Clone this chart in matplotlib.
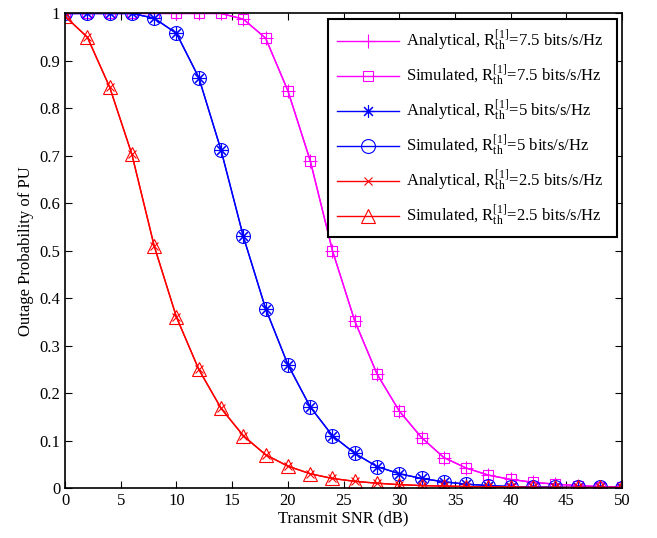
import matplotlib
matplotlib.use('Agg')
import matplotlib.pyplot as plt
import numpy as np

plt.rcParams['font.family'] = 'Liberation Serif'
plt.rcParams['mathtext.fontset'] = 'custom'
plt.rcParams['mathtext.rm'] = 'Liberation Serif'
plt.rcParams['mathtext.it'] = 'Liberation Serif:italic'
plt.rcParams['font.size'] = 12

snr = np.arange(0, 51, 2)

# outage probability, R_th = 7.5 bits/s/Hz
p75 = [1.0, 1.0, 1.0, 1.0, 1.0, 1.0, 1.0, 1.0, 0.988, 0.948, 0.837, 0.69, 0.50,
       0.352, 0.24, 0.162, 0.106, 0.064, 0.042, 0.027, 0.018, 0.012, 0.008,
       0.005, 0.003, 0.002]
# R_th = 5 bits/s/Hz
p5 = [1.0, 1.0, 1.0, 1.0, 0.99, 0.958, 0.865, 0.712, 0.53, 0.378, 0.26, 0.171,
      0.11, 0.073, 0.045, 0.03, 0.02, 0.013, 0.008, 0.005, 0.003, 0.002, 0.0015,
      0.001, 0.001, 0.0005]
# R_th = 2.5 bits/s/Hz
p25 = [0.994, 0.95, 0.845, 0.703, 0.51, 0.36, 0.25, 0.168, 0.11, 0.07, 0.046,
       0.03, 0.02, 0.014, 0.01, 0.007, 0.005, 0.004, 0.003, 0.002, 0.002, 0.001,
       0.001, 0.001, 0.001, 0.001]

rates = ['7.5', '5', '2.5']
series = [p75, p5, p25]
colors = ['#ff00ff', '#0000ff', '#ff0000']
ana_markers = ['+', (8, 2, 0), 'x']
ana_sizes = [10, 9, 6]
sim_markers = ['s', 'o', '^']
sim_sizes = [7, 10, 10]

fig = plt.figure(figsize=(6.57, 5.38), dpi=100)
ax = fig.add_axes([0.099, 0.093, 0.848, 0.882])

for r, p, c, am, asz, sm, ms in zip(rates, series, colors, ana_markers, ana_sizes,
                                    sim_markers, sim_sizes):
    ax.plot(snr, p, color=c, marker=am, markersize=asz, lw=1, mew=0.8,
            label=r'Analytical, R$_{\mathrm{th}}^{[1]}$=' + r + ' bits/s/Hz \u2002')
    ax.plot(snr, p, color=c, marker=sm, markersize=ms, lw=1, mew=0.8,
            markerfacecolor='none',
            label=r'Simulated, R$_{\mathrm{th}}^{[1]}$=' + r + ' bits/s/Hz \u2002')

ax.set_xlim(0, 50)
ax.set_ylim(0, 1)
ax.set_xticks(np.arange(0, 51, 5))
ax.set_yticks(np.arange(0, 1.01, 0.1))
ax.set_yticklabels(['0', '0.1', '0.2', '0.3', '0.4', '0.5', '0.6', '0.7', '0.8', '0.9', '1'])
ax.tick_params(direction='in', top=True, right=True, length=5, labelsize=12)
for s in ax.spines.values():
    s.set_linewidth(1.2)
ax.set_xlabel('Transmit SNR (dB)', fontsize=12, labelpad=1)
ax.set_ylabel('Outage Probability of PU', fontsize=12, labelpad=4)

leg = ax.legend(loc='upper right', fontsize=12, fancybox=False, edgecolor='black',
                framealpha=1, handlelength=3.7, handletextpad=0.4, borderpad=0.55,
                labelspacing=0.57, borderaxespad=0,
                bbox_to_anchor=(0.991, 0.989))
leg.get_frame().set_linewidth(1.5)

plt.savefig('out.png', dpi=100)
